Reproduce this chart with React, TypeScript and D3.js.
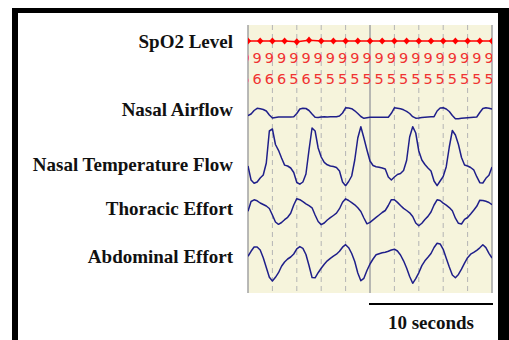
import React from "react";
import * as d3 from "d3";

// ---- data ----
const channelLabels = ["SpO2 Level", "Nasal Airflow", "Nasal Temperature Flow", "Thoracic Effort", "Abdominal Effort"];
const durationSec = 20;
const sampleStep = 0.25; // seconds between samples of the waveforms
const majorGridSec = [0, 10, 20];
const minorGridSec = [2, 4, 6, 8, 12, 14, 16, 18];
const scaleBarLabel = "10 seconds";
const scaleBarSec = [10, 20];

// SpO2 once per second
const spo2Trace = [96, 96, 96, 96, 95.6, 96.4, 96, 96, 96, 96, 96, 96, 96, 96, 96, 96, 96, 96, 96, 96, 96];
const spo2Readings = [95, 96, 96, 96, 95, 96, 95, 95, 95, 95, 95, 95, 95, 95, 95, 95, 95, 95, 95, 95, 95];

const nasalAirflow = [
  -2.7, -1, 2.5, 4.7, 4.3, 3.5, 2, -2, -5, -4.5, -4, -4, -4, -4.1, -4, -3.8,
  -0.5, 4, 4.7, 4.5, 2.5, -1, -4.2, -4.5, -4, -3.8, -3.9, -3.8, -3.8, -3.7, -3, 0,
  5.2, 5, 4.3, 2.2, -0.5, -3.5, -5.3, -4.8, -4.3, -4.3, -4.2, -4.3, -4.3, -4.2, -4.2, -0.3,
  5.2, 4.8, 4.2, 3.2, 1.7, -0.5, -3.7, -5.2, -5, -4.5, -4.2, -4, -3.8, -3.7, 2, 5,
  5.3, 4, 1.5, -2.5, -5.8, -5.8, -5.3, -5, -4.7, -4.4, -4.2, -4, 0.5, 4.5, 5.3, 4.8, 4,
];

const nasalTemperature = [
  -10, -24, -27.3, -26, -22, -19, -7, 25, 27, 11.5, 5.7, -2, -9.1, -10, -12, -16.5,
  -26.5, -28.2, -26, -18, 6, 28, 25, 8, -1, -6.3, -8.8, -10, -10.5, -11.5, -15, -26,
  -29.7, -25.5, -20, -4, 18, 29.3, 18, 6, -5, -9.5, -10.7, -11.3, -12, -13, -21, -24,
  -21, -18.5, -17.5, -14.5, -4.5, 19, 29.3, 23, 5, -4, -8.5, -12, -15, -25, -29.7, -25,
  -20.5, -10.7, 9, 25.5, 21, 11.5, -1.5, -9, -10, -11.5, -13.8, -20.7, -26.7, -27, -22.3, -19.3, -11,
];

const thoracicEffort = [
  0.7, 10.5, 12.2, 11.2, 9, 7.5, 6, 3.5, -3, -10, -12.3, -10.5, -7.7, -5.3, -1.3, 7,
  13.3, 12.3, 10.3, 8.2, 6.3, 4.2, -3, -9.5, -12.6, -11, -8, -5.7, -3.5, -1.2, 3.3, 9.7,
  13.2, 11.5, 9.4, 7.2, 4.2, 0.5, -6, -11.8, -10.3, -7.8, -5.4, -3, -0.5, 1.5, 6.5, 12.3,
  12.3, 9.6, 6.5, 3.6, 1.5, -0.8, -4.5, -11, -13.8, -11.2, -7.5, -4.4, 0, 7, 12.2, 11.5,
  8.9, 6.8, 4.4, 1.2, -6.2, -11.3, -12, -7.4, -5.5, -2, 1.7, 5.7, 11.8, 11.5, 10.7, 9.5, 7.3,
];

const abdominalEffort = [
  6.7, 11.7, 16, 16, 13, 5.3, -4.5, -14.3, -18, -14.3, -9.7, -3.3, 1, 4, 6, 9,
  14.2, 16.4, 14.7, 8.5, -2.5, -14.5, -14.8, -9.7, -5.3, -1.2, 2.2, 4.7, 6.8, 8.8, 11.7, 15.8,
  18.3, 15.3, 9.5, 1.5, -10, -17.7, -15.3, -7.5, -1, 4, 8.2, 9.3, 10.2, 10.8, 11.8, 13,
  13.8, 12, 8, 2.2, -5, -13.5, -20.3, -15.7, -9.8, -2.6, 2.2, 5.7, 9.5, 15.5, 19.7, 19.1,
  13.7, 4.8, -4, -12, -14.7, -11.4, -6.2, -0.1, 5.3, 8.8, 10.6, 12.7, 15.2, 18.2, 15.4, 9.7, 5,
];

// ---- layout ----
const W = 509;
const H = 340;
const plot = { left: 248, right: 492, top: 25, bottom: 293 };
const x = d3.scaleLinear().domain([0, durationSec]).range([plot.left, plot.right]);

const waveRows = [
  { label: channelLabels[1], values: nasalAirflow, y: d3.scaleLinear().domain([-10, 10]).range([123, 103]), labelY: 116 },
  { label: channelLabels[2], values: nasalTemperature, y: d3.scaleLinear().domain([-35, 35]).range([191, 121]), labelY: 171 },
  { label: channelLabels[3], values: thoracicEffort, y: d3.scaleLinear().domain([-20, 20]).range([232, 192]), labelY: 215 },
  { label: channelLabels[4], values: abdominalEffort, y: d3.scaleLinear().domain([-25, 25]).range([288, 238]), labelY: 263 },
];
const spo2Y = d3.scaleLinear().domain([95, 97]).range([43, 39]);

const labelFont = "'Liberation Serif', 'Times New Roman', serif";
const digitFont = "'DejaVu Sans', Verdana, sans-serif";
const waveColor = "#1f1f8a";

export default function App() {
  const spo2Line = d3
    .line<number>()
    .x((_, i) => x(i))
    .y((d) => spo2Y(d));

  return (
    <svg width={W} height={H} style={{ position: "absolute", left: 0, top: 0, background: "#fff" }}>
      <defs>
        <clipPath id="plotClip">
          <rect x={plot.left} y={plot.top} width={plot.right - plot.left} height={plot.bottom - plot.top} />
        </clipPath>
      </defs>
      {/* frame */}
      <rect x={12} y={8} width={W - 12} height={H} fill="#000" />
      <rect x={18} y={13} width={498 - 18} height={H} fill="#fff" />

      {/* plot background */}
      <rect x={plot.left} y={plot.top} width={plot.right - plot.left} height={plot.bottom - plot.top} fill="#f6f4dc" />
      {minorGridSec.map((s) => (
        <line key={"mg" + s} x1={x(s)} x2={x(s)} y1={plot.top} y2={plot.bottom} stroke="#b4b4b4" strokeWidth={1} strokeDasharray="5,4" />
      ))}
      {majorGridSec.map((s) => (
        <line key={"MG" + s} x1={x(s)} x2={x(s)} y1={plot.top} y2={plot.bottom} stroke="#a8a8a8" strokeWidth={1.6} />
      ))}

      <g clipPath="url(#plotClip)">
        {/* SpO2 trace */}
        <path d={spo2Line(spo2Trace) || ""} fill="none" stroke="#ff0000" strokeWidth={1.5} />
        {spo2Trace.map((v, i) => (
          <path key={"dm" + i} transform={`translate(${x(i)},${spo2Y(v)})`} d="M0,-3.6L3.2,0L0,3.6L-3.2,0Z" fill="#ff0000" />
        ))}
        {spo2Readings.map((v, i) => (
          <g key={"dg" + i} fill="#f03232" fontFamily={digitFont} fontSize={14.5} textAnchor="middle">
            <text x={x(i) - 3} y={63}>{Math.floor(v / 10)}</text>
            <text x={x(i) - 3} y={83.5}>{v % 10}</text>
          </g>
        ))}
        {/* waveforms */}
        {waveRows.map((r) => {
          const line = d3
            .line<number>()
            .x((_, i) => x(i * sampleStep))
            .y((d) => r.y(d));
          return <path key={r.label} d={line(r.values) || ""} fill="none" stroke={waveColor} strokeWidth={1.5} strokeLinejoin="round" />;
        })}
      </g>

      {/* labels */}
      <g fontFamily={labelFont} fontWeight="bold" fontSize={19} textAnchor="end" fill="#111">
        <text x={233} y={48}>{channelLabels[0]}</text>
        {waveRows.map((r) => (
          <text key={"l" + r.label} x={233} y={r.labelY}>{r.label}</text>
        ))}
      </g>

      {/* scale bar */}
      <line x1={x(scaleBarSec[0]) - 1} x2={x(scaleBarSec[1]) + 1} y1={304} y2={304} stroke="#000" strokeWidth={2.2} />
      <text x={(x(scaleBarSec[0]) + x(scaleBarSec[1])) / 2} y={329} textAnchor="middle" fontFamily={labelFont} fontWeight="bold" fontSize={19} fill="#111">
        {scaleBarLabel}
      </text>
    </svg>
  );
}
